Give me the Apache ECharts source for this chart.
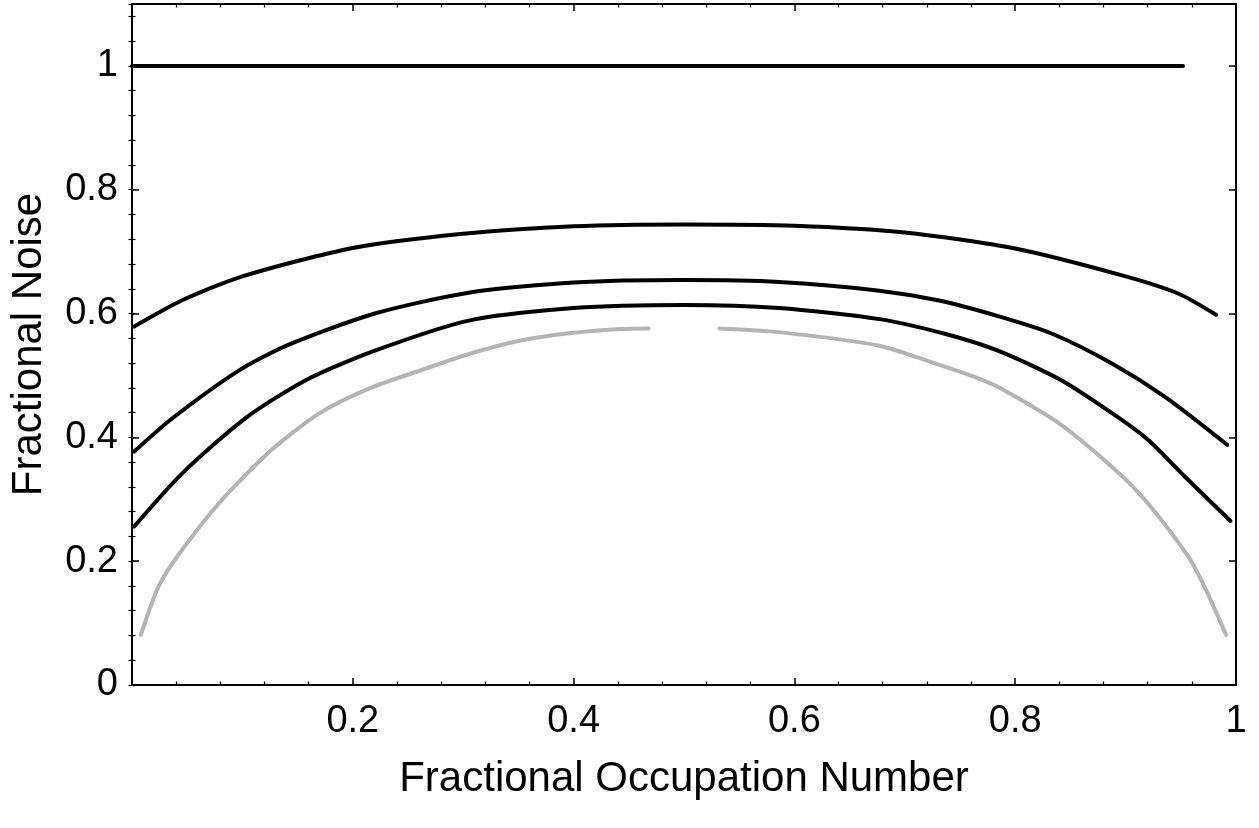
<!DOCTYPE html>
<html>
<head>
<meta charset="utf-8">
<script src="https://cdn.jsdelivr.net/npm/echarts@6/dist/echarts.min.js"></script>
<style>
  html, body { margin: 0; padding: 0; background: #fff; }
  #chart { width: 1259px; height: 828px; }
</style>
</head>
<body>
<div id="chart"></div>
<script>
// values
const xFlat = [0, 0.952]
const yFlat = [1, 1]

const xUpper = [0.002, 0.045, 0.1, 0.2, 0.3, 0.4, 0.5, 0.6, 0.7, 0.8, 0.9, 0.948, 0.982]
const yUpper = [0.579, 0.621, 0.66, 0.706, 0.729, 0.741, 0.744, 0.742, 0.731, 0.705, 0.66, 0.632, 0.598]

const xMiddle = [0.002, 0.036, 0.096, 0.141, 0.22, 0.306, 0.4, 0.5, 0.586, 0.677, 0.731, 0.786, 0.834, 0.888, 0.936, 0.992]
const yMiddle = [0.377, 0.43, 0.507, 0.549, 0.6, 0.634, 0.65, 0.654, 0.651, 0.637, 0.621, 0.595, 0.567, 0.519, 0.465, 0.388]

const xLower = [0.002, 0.045, 0.102, 0.157, 0.22, 0.306, 0.4, 0.5, 0.586, 0.677, 0.737, 0.786, 0.841, 0.891, 0.921, 0.954, 0.995]
const yLower = [0.256, 0.341, 0.43, 0.492, 0.54, 0.589, 0.609, 0.614, 0.609, 0.591, 0.567, 0.539, 0.493, 0.435, 0.395, 0.336, 0.265]

const xGrayLeft = [0.008, 0.024, 0.042, 0.081, 0.126, 0.169, 0.215, 0.261, 0.306, 0.351, 0.396, 0.442, 0.468]
const yGrayLeft = [0.081, 0.159, 0.21, 0.298, 0.379, 0.438, 0.479, 0.508, 0.535, 0.556, 0.568, 0.575, 0.576]

const xGrayRight = [0.532, 0.586, 0.677, 0.728, 0.767, 0.786, 0.841, 0.891, 0.918, 0.957, 0.973, 0.991]
const yGrayRight = [0.576, 0.57, 0.548, 0.519, 0.495, 0.48, 0.421, 0.347, 0.298, 0.207, 0.153, 0.081]

const FONT = 'Liberation Sans, Arial, sans-serif'

function pairs(xs, ys) {
  return xs.map((x, i) => [x, ys[i]])
}

function curve(name, xs, ys, color) {
  return {
    name: name,
    type: 'line',
    data: pairs(xs, ys),
    xAxisIndex: 0,
    yAxisIndex: 0,
    showSymbol: false,
    smooth: 0.25,
    lineStyle: { color: color, width: 4, cap: 'round', join: 'round' },
    silent: true,
    z: color === '#000' ? 3 : 2
  }
}

const axisLine = { show: true, onZero: false, lineStyle: { color: '#000', width: 2 } }

function xAxisCfg(position, withLabels) {
  return {
    type: 'value',
    position: position,
    min: 0,
    max: 1,
    interval: 0.2,
    axisLine: axisLine,
    axisTick: { show: true, inside: true, length: 7, lineStyle: { color: '#000', width: 1.5 } },
    minorTick: { show: true, splitNumber: 5, length: 3.5, lineStyle: { color: '#000', width: 1.2 } },
    axisLabel: withLabels ? {
      show: true,
      margin: 18,
      color: '#000',
      fontSize: 38,
      fontFamily: FONT,
      formatter: v => (v === 0 ? '' : String(+v.toFixed(2)))
    } : { show: false },
    splitLine: { show: false },
    name: withLabels ? 'Fractional Occupation Number' : '',
    nameLocation: 'middle',
    nameGap: 73,
    nameTextStyle: { color: '#000', fontSize: 42, fontFamily: FONT }
  }
}

function yAxisCfg(position, withLabels, minor) {
  return {
    type: 'value',
    position: position,
    min: 0,
    max: 1.1,
    interval: minor ? 0.04 : 0.2,
    axisLine: minor ? { show: false } : axisLine,
    axisTick: {
      show: true,
      inside: true,
      length: minor ? 3.5 : 7,
      lineStyle: { color: '#000', width: minor ? 1.2 : 1.5 }
    },
    axisLabel: withLabels ? {
      show: true,
      margin: 14,
      color: '#000',
      fontSize: 38,
      fontFamily: FONT,
      formatter: v => (v > 1.05 ? '' : String(+v.toFixed(2)))
    } : { show: false },
    splitLine: { show: false },
    name: withLabels ? 'Fractional Noise' : '',
    nameLocation: 'middle',
    nameGap: 82,
    nameRotate: 90,
    nameTextStyle: { color: '#000', fontSize: 42, fontFamily: FONT }
  }
}

const chart = echarts.init(document.getElementById('chart'), null, { renderer: 'canvas' })

chart.setOption({
  backgroundColor: '#fff',
  animation: false,
  grid: { left: 132, right: 23, top: 4, bottom: 143, containLabel: false, outerBoundsMode: 'none' },
  xAxis: [xAxisCfg('bottom', true), xAxisCfg('top', false)],
  yAxis: [
    yAxisCfg('left', true, false),
    yAxisCfg('left', false, true),
    yAxisCfg('right', false, false),
    yAxisCfg('right', false, true)
  ],
  series: [
    curve('flat', xFlat, yFlat, '#000'),
    curve('upper', xUpper, yUpper, '#000'),
    curve('middle', xMiddle, yMiddle, '#000'),
    curve('lower', xLower, yLower, '#000'),
    curve('grayLeft', xGrayLeft, yGrayLeft, '#b4b4b4'),
    curve('grayRight', xGrayRight, yGrayRight, '#b4b4b4')
  ]
})
</script>
</body>
</html>
